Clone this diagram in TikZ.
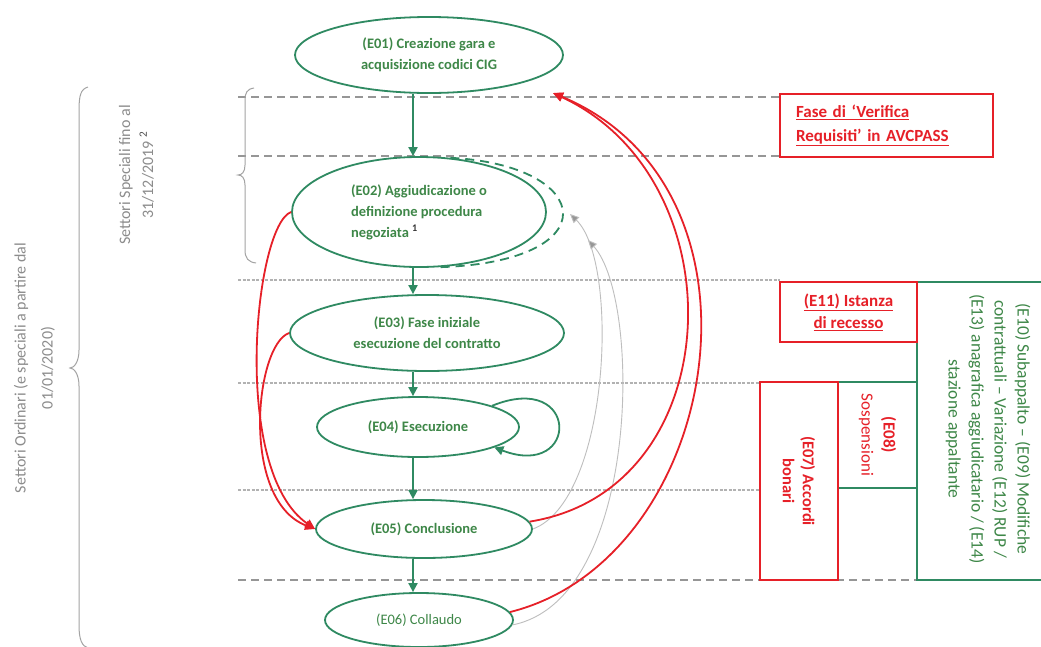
\documentclass[tikz,border=0pt]{standalone}
\usepackage{fontspec}
\setmainfont{Carlito}
\usetikzlibrary{arrows.meta,shapes.geometric}
\definecolor{gr}{RGB}{47,138,98}
\definecolor{gtext}{RGB}{62,135,72}
\definecolor{rd}{RGB}{230,32,40}
\definecolor{dg}{RGB}{150,150,150}
\definecolor{lg}{RGB}{178,178,178}
\definecolor{txtg}{RGB}{140,140,140}
\definecolor{arrg}{RGB}{190,190,190}
\begin{document}
\begin{tikzpicture}[x=1pt,y=-1pt,
  state/.style={ellipse, draw=gr, line width=1.8pt, fill=white, inner sep=0pt,
    text=gtext, font=\fontsize{14.5}{21}\selectfont\bfseries, align=center},
  rbox/.style={rectangle, draw=rd, line width=1.8pt, fill=white, inner sep=0pt,
    text=rd, align=center},
  gbox/.style={rectangle, draw=gr, line width=1.8pt, fill=white, inner sep=0pt,
    align=center},
  thickdash/.style={draw=dg, line width=2pt, dash pattern=on 8pt off 5pt},
  thindash/.style={draw=lg, line width=1.3pt, dash pattern=on 3pt off 1.5pt},
  garrow/.style={draw=gr, line width=1.8pt, -{Triangle[length=9pt,width=9pt]}},
  rarrow/.style={draw=rd, line width=1.8pt, -{Triangle[length=10pt,width=9pt]}},
  grayarrow/.style={draw=arrg, line width=0.9pt, -{Triangle[length=9pt,width=8pt,fill=dg]}},
  gdash/.style={draw=gr, line width=1.8pt, dash pattern=on 9pt off 6pt},
  bracestyle/.style={draw=txtg!80, line width=1pt},
  sidetext/.style={rotate=90, text=txtg, align=center}
]
\useasboundingbox (0,0) rectangle (1041,646);
\fill[white] (0,0) rectangle (1041,646);

% horizontal separators
\draw[thickdash] (238,97) -- (780,97);
\draw[thickdash] (238,156) -- (780,156);
\draw[thindash] (238,280) -- (780,280);
\draw[thindash] (238,383) -- (760,383);
\draw[thindash] (238,490) -- (760,490);
\draw[thickdash] (238,580) -- (917,580);

% braces
\draw[bracestyle] (88,87) .. controls (81,89) and (79,95) .. (79,110) -- (79,350)
  .. controls (79,362) and (74,368) .. (70,368) .. controls (74,368) and (79,374) .. (79,386)
  -- (79,625) .. controls (79,640) and (82,646) .. (88,648);
\draw[bracestyle] (254,88) .. controls (247,89) and (245,93) .. (245,100) -- (245,165)
  .. controls (245,172) and (242,175) .. (238,175) .. controls (242,175) and (245,178) .. (245,185)
  -- (245,250) .. controls (245,258) and (248,262) .. (256,263);

% side texts
\node[sidetext, font=\fontsize{16}{27}\selectfont] (tord) at (34.5,368)
  {Settori Ordinari (e speciali a partire dal\\01/01/2020)};
\node[sidetext, font=\fontsize{16}{23}\selectfont] (tspec) at (136.5,175)
  {Settori Speciali fino al\\31/12/2019 \textsuperscript{\color{black!70}2}};

% states
\node[state, minimum width=268pt, minimum height=76pt] (e01) at (429,55)
  {(E01) Creazione gara e\\acquisizione codici CIG};
\node[state, minimum width=254pt, minimum height=110pt, align=left] (e02) at (419,212)
  {(E02) Aggiudicazione o\\definizione procedura\\negoziata \textsuperscript{\color{black!80}1}};
\node[state, minimum width=274pt, minimum height=76pt] (e03) at (427,333)
  {(E03) Fase iniziale\\esecuzione del contratto};
\node[state, minimum width=202pt, minimum height=60pt] (e04) at (418,427)
  {(E04) Esecuzione};
\node[state, minimum width=216pt, minimum height=58pt] (e05) at (424,529)
  {(E05) Conclusione};
\node[state, minimum width=188pt, minimum height=54pt, font=\fontsize{14.5}{21}\selectfont] (e06) at (419,620)
  {(E06) Collaudo};

% boxes on the right
\node[rbox, minimum width=213pt, minimum height=63pt, text width=181pt, align=left,
  inner xsep=16pt, font=\fontsize{17}{24}\selectfont\bfseries] (bav) at (886.5,125.5)
  {\underline{Fase di ‘Verifica}\\\underline{Requisiti’ in AVCPASS}};
\draw[draw=gr, line width=1.8pt] (1043,282) -| (917,580) -- (1043,580);
\node[rbox, minimum width=137pt, minimum height=60pt, font=\fontsize{17}{22}\selectfont\bfseries] (b11) at (848.5,312)
  {\underline{(E11) Istanza}\\\underline{di recesso}};
\node[gbox, rotate=-90, minimum width=106pt, minimum height=79pt, text=rd,
  font=\fontsize{17}{22}\selectfont] (b08) at (877.5,435)
  {\textbf{(E08)}\\Sospensioni};
\node[rbox, rotate=-90, minimum width=198pt, minimum height=78pt,
  font=\fontsize{16.5}{20}\selectfont\bfseries] (b07) at (799,481)
  {(E07) Accordi\\bonari};
\node[rotate=-90, text=gtext, align=center, font=\fontsize{17.5}{23}\selectfont] (t10) at (988,429)
  {(E10) Subappalto – (E09) Modifiche\\contrattuali – Variazione (E12) RUP /\\(E13) anagrafica aggiudicatario / (E14)\\stazione appaltante};

% main flow
\coordinate (ax) at (413,0);
\draw[garrow] (e01.south -| ax) -- (e02.north -| ax);
\draw[garrow] (e02.south -| ax) -- (e03.north -| ax);
\draw[garrow] (e03.south -| ax) -- (e04.north -| ax);
\draw[garrow] (e04.south -| ax) -- (e05.north -| ax);
\draw[garrow] (e05.south -| ax) -- (e06.north -| ax);

% loops
\draw[garrow] (e04.16) .. controls (580,370) and (580,480) .. (e04.-15);
\draw[gdash] (e02.60) .. controls (595,165) and (610,262) .. (e02.-70);

% gray returns
\coordinate (g1) at (570,214);
\coordinate (g2) at (588,240);
\draw[grayarrow] (e05.east) .. controls (610,500) and (620,262) .. (g1);
\draw[grayarrow] (e06.-3) .. controls (640,600) and (642,300) .. (g2);

% red returns
\coordinate (t01) at (553,93);
\draw[rarrow] (e05.4) .. controls (730,490) and (740,180) .. (t01);
\draw[rarrow] (e06.5) .. controls (720,560) and (785,190) .. (t01);
\draw[rarrow] (e02.west) .. controls (255,225) and (230,470) .. (e05.west);
\draw[rarrow] (e03.west) .. controls (255,345) and (240,500) .. (e05.west);
\end{tikzpicture}
\end{document}
